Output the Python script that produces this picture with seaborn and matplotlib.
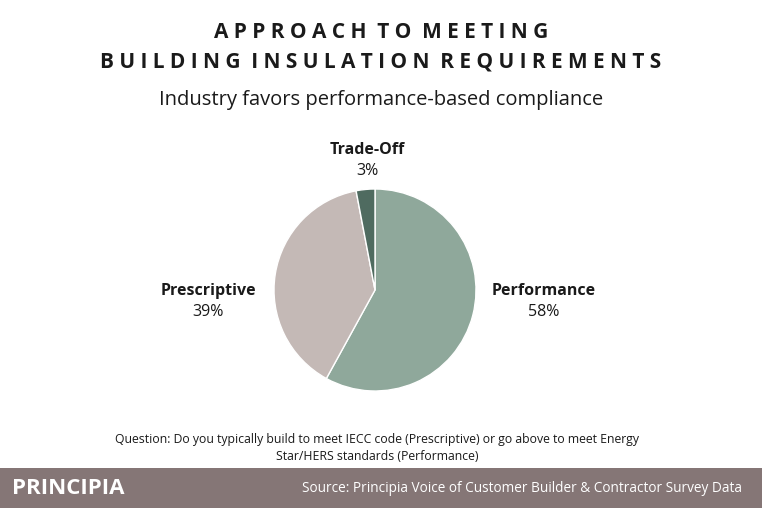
import matplotlib
matplotlib.use("Agg")
import matplotlib.pyplot as plt
import seaborn as sns
from matplotlib.patches import Rectangle

sns.set_theme(style="white")
plt.rcParams['font.family'] = ['Open Sans', 'DejaVu Sans']

labels = ['Performance', 'Prescriptive', 'Trade-Off']
shares = [58, 39, 3]
colors = ['#8fa89b', '#c4b9b6', '#4f6b60']

fig = plt.figure(figsize=(7.62, 5.08), dpi=100)
fig.patch.set_facecolor('white')

r = 101
ax = fig.add_axes([(375 - r)/762, 1 - (290 + r)/508, 2*r/762, 2*r/508])
ax.pie(shares, colors=colors, startangle=90, counterclock=False,
       wedgeprops=dict(edgecolor='white', linewidth=1))
ax.set_xlim(-1, 1)
ax.set_ylim(-1, 1)
ax.set_aspect('equal')

title_kw = dict(ha='center', va='center', fontsize=15, fontweight='bold', color='#1a1a1a')
fig.text(0.5, 1 - 33/508, 'A P P R O A C H   T O   M E E T I N G'.replace('   ', '  '), **title_kw)
fig.text(0.5, 1 - 62/508, 'B U I L D I N G   I N S U L A T I O N   R E Q U I R E M E N T S'.replace('   ', '  '), **title_kw)
fig.text(0.5, 1 - 100/508, 'Industry favors performance-based compliance', ha='center',
         va='center', fontsize=14.5, color='#1a1a1a')

label_pos = {'Performance': (544, 291), 'Prescriptive': (208, 291), 'Trade-Off': (367, 150)}
for lab, val in zip(labels, shares):
    x, y = label_pos[lab]
    fig.text(x/762, 1 - y/508, lab, ha='center', va='center', fontsize=11.5,
             fontweight='bold', color='#1a1a1a')
    fig.text(x/762, 1 - (y + 21)/508, f'{val}%', ha='center', va='center',
             fontsize=11.5, color='#1a1a1a')

fig.text(377/762, 1 - 448/508,
         'Question: Do you typically build to meet IECC code (Prescriptive) or go above to meet Energy\n'
         'Star/HERS standards (Performance)',
         ha='center', va='center', fontsize=8.8, color='#1a1a1a', linespacing=1.3)

fig.add_artist(Rectangle((0, 0), 1, 40/508, transform=fig.transFigure,
                         facecolor='#857676', edgecolor='none'))
fig.text(12/762, 20/508, 'PRINCIPIA', ha='left', va='center', fontsize=16,
         fontweight='bold', color='white')
fig.text(742/762, 20/508, 'Source: Principia Voice of Customer Builder & Contractor Survey Data',
         ha='right', va='center', fontsize=9.8, color='white')

fig.savefig('out.png', dpi=100)
